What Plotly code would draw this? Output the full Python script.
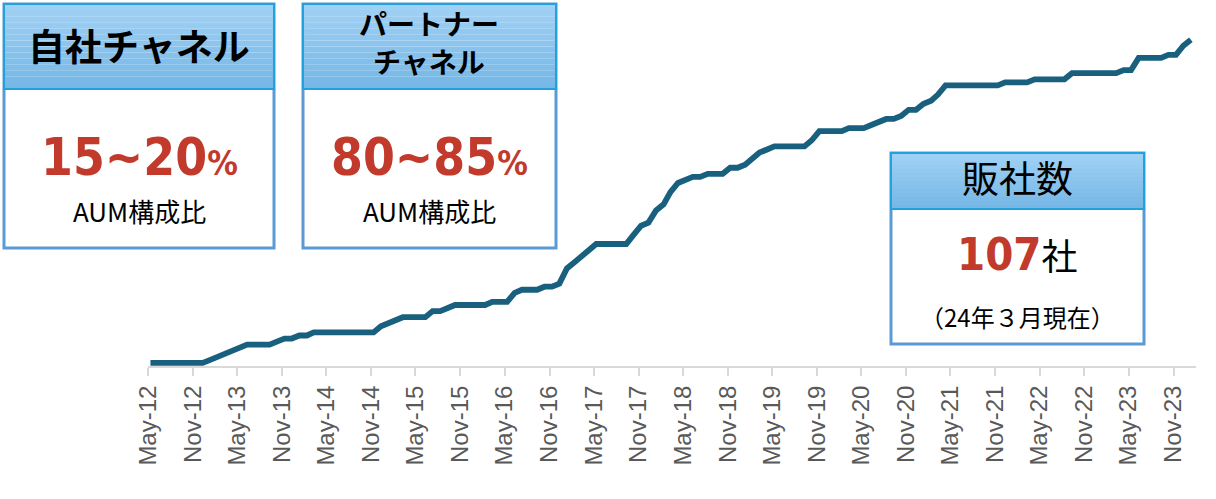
import plotly.graph_objects as go
import pandas as pd

# ---- data ----
start_month = "2012-05-01"
dealer_counts = [
    1, 1, 1, 1, 1, 1, 1, 1,            # May-12 .. Dec-12
    2, 3, 4, 5, 6, 7,                  # Jan-13 .. Jun-13
    7, 7, 7, 8, 9, 9, 10, 10, 11,      # Jul-13 .. Mar-14
    11, 11, 11, 11, 11, 11, 11, 11,    # Apr-14 .. Nov-14
    13, 14, 15, 16, 16, 16, 16,        # Dec-14 .. Jun-15
    18, 18, 19, 20, 20, 20, 20, 20,    # Jul-15 .. Feb-16
    21, 21, 21,                        # Mar-16 .. May-16
    24, 25, 25, 25, 26, 26, 27,        # Jun-16 .. Dec-16
    32, 34, 36, 38, 40, 40, 40, 40, 40,  # Jan-17 .. Sep-17
    43, 46, 47, 51, 53, 57, 60, 61, 62, 62,  # Oct-17 .. Jul-18
    63, 63, 63,                        # Aug-18 .. Oct-18
    65, 65, 66, 68, 70, 71, 72,        # Nov-18 .. May-19
    72, 72, 72, 72,                    # Jun-19 .. Sep-19
    74, 77, 77, 77, 77,                # Oct-19 .. Feb-20
    78, 78, 78,                        # Mar-20 .. May-20
    79, 80, 81, 81, 82, 84, 84, 86, 87, 89, 92,  # Jun-20 .. Apr-21
    92, 92, 92, 92, 92, 92, 92,        # May-21 .. Nov-21
    93, 93, 93, 93,                    # Dec-21 .. Mar-22
    94, 94, 94, 94, 94,                # Apr-22 .. Aug-22
    96, 96, 96, 96, 96, 96, 96,        # Sep-22 .. Mar-23
    97, 97,                            # Apr-23 .. May-23
    101, 101, 101, 101,                # Jun-23 .. Sep-23
    102, 102, 105, 107,                # Oct-23 .. Jan-24
]
tick_labels = [
    "May-12", "Nov-12", "May-13", "Nov-13", "May-14", "Nov-14",
    "May-15", "Nov-15", "May-16", "Nov-16", "May-17", "Nov-17",
    "May-18", "Nov-18", "May-19", "Nov-19", "May-20", "Nov-20",
    "May-21", "Nov-21", "May-22", "Nov-22", "May-23", "Nov-23",
]

months = pd.date_range(start_month, periods=len(dealer_counts), freq="MS") + pd.Timedelta(days=10)
tick_vals = pd.date_range(start_month, periods=len(tick_labels), freq="6MS")

# ---- figure ----
W, H = 1216, 499
L, R, T, B = 148, 20, 0, 133
PW, PH = W - L - R, H - T - B


def px(x):
    return (x - L) / PW


def py(y):
    return (T + PH - y) / PH


fig = go.Figure()
fig.add_trace(go.Scatter(
    x=months, y=dealer_counts, mode="lines",
    line=dict(color="#19607f", width=5.8),
    hoverinfo="skip", showlegend=False,
))

shapes = []
annotations = []


def add_box(x0, x1, y0, yh, y1):
    # body
    shapes.append(dict(type="rect", xref="paper", yref="paper",
                       x0=px(x0), x1=px(x1), y0=py(y1), y1=py(y0),
                       fillcolor="white", line=dict(color="#5b9bd5", width=3)))
    # header gradient stripes
    n = 14
    c0 = (160, 209, 245)
    c1 = (118, 183, 230)
    for i in range(n):
        t = i / (n - 1)
        c = tuple(int(round(c0[k] + (c1[k] - c0[k]) * t)) for k in range(3))
        ya = y0 + (yh - y0) * i / n
        yb = y0 + (yh - y0) * (i + 1) / n
        shapes.append(dict(type="rect", xref="paper", yref="paper",
                           x0=px(x0), x1=px(x1), y0=py(yb), y1=py(ya),
                           fillcolor="rgb(%d,%d,%d)" % c, line=dict(width=0)))
    shapes.append(dict(type="rect", xref="paper", yref="paper",
                       x0=px(x0), x1=px(x1), y0=py(yh), y1=py(y0),
                       fillcolor="rgba(0,0,0,0)", line=dict(color="#22a2dc", width=2)))


def add_text(text, x, y, size, color="black", family="Noto Sans CJK JP"):
    annotations.append(dict(text=text, xref="paper", yref="paper",
                            x=px(x), y=py(y), xanchor="center", yanchor="middle",
                            showarrow=False,
                            font=dict(size=size, color=color, family=family)))


RED = "#c23a2b"
NUM_FONT = "DejaVu Sans Condensed, Roboto Condensed, Roboto, sans-serif"

# Box 1
add_box(4, 274, 4, 89, 248)
add_text("<b>自社チャネル</b>", 139, 45, 37)
add_text("<b>15~20<span style='font-size:34px'>%</span></b>", 139, 157, 51, RED, NUM_FONT)
add_text("AUM構成比", 139, 210, 26)

# Box 2
add_box(303, 556, 4, 89, 248)
add_text("<b>パートナー</b>", 429, 23, 28)
add_text("<b>チャネル</b>", 429, 61, 28)
add_text("<b>80~85<span style='font-size:34px'>%</span></b>", 429, 157, 51, RED, NUM_FONT)
add_text("AUM構成比", 429, 210, 26)

# Box 3
add_box(891, 1144, 153, 209, 344)
add_text("販社数", 1017, 177, 37)
add_text("<b><span style='color:%s;font-family:%s;font-size:45px'>107</span></b>社" % (RED, NUM_FONT),
         1017, 254, 36)
add_text("（24年３月現在）", 1017, 316, 24)

fig.update_layout(
    width=W, height=H,
    margin=dict(l=L, r=R, t=T, b=B),
    paper_bgcolor="white", plot_bgcolor="white",
    shapes=shapes, annotations=annotations,
    xaxis=dict(
        range=[pd.Timestamp("2012-05-01"), pd.Timestamp("2024-02-01")],
        tickvals=tick_vals, ticktext=tick_labels, tickangle=-90,
        tickfont=dict(family="Liberation Sans", size=24, color="#595959"),
        showline=True, linecolor="#d9d9d9", linewidth=2,
        ticks="outside", ticklen=8, tickwidth=2, tickcolor="#d9d9d9",
        showgrid=False, zeroline=False,
    ),
    yaxis=dict(range=[0, 120], visible=False, showgrid=False, zeroline=False),
)

fig.write_html("out.html", config={"displayModeBar": False},
               post_script="document.body.style.margin='0';")
